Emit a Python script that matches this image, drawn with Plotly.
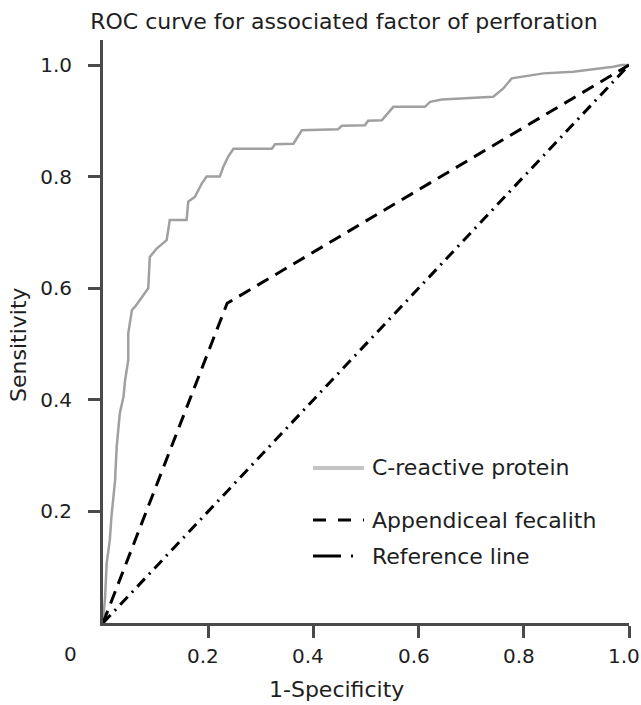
import plotly.graph_objects as go

# ---- data ----
crp_fpr = [0.0, 0.004, 0.007, 0.013, 0.016, 0.023, 0.026, 0.032, 0.039, 0.042, 0.048, 0.048,
           0.055, 0.061, 0.086, 0.089, 0.102, 0.121, 0.127, 0.159, 0.162, 0.175, 0.188, 0.197,
           0.222, 0.229, 0.238, 0.248, 0.321, 0.327, 0.362, 0.378, 0.447, 0.454, 0.498, 0.504,
           0.530, 0.552, 0.612, 0.622, 0.644, 0.742, 0.761, 0.777, 0.837, 0.894, 0.970, 0.986, 1.0]
crp_tpr = [0.0, 0.047, 0.107, 0.149, 0.190, 0.256, 0.316, 0.376, 0.406, 0.435, 0.471, 0.519,
           0.561, 0.567, 0.600, 0.656, 0.671, 0.686, 0.722, 0.722, 0.755, 0.764, 0.788, 0.800,
           0.800, 0.818, 0.836, 0.850, 0.850, 0.858, 0.859, 0.883, 0.885, 0.891, 0.892, 0.900,
           0.901, 0.925, 0.925, 0.934, 0.938, 0.943, 0.958, 0.976, 0.985, 0.988, 0.997, 1.0, 1.0]

fecalith_fpr = [0.0, 0.236, 1.0]
fecalith_tpr = [0.0, 0.573, 1.0]

ref_fpr = [0.0, 1.0]
ref_tpr = [0.0, 1.0]

x_ticks = [0.2, 0.4, 0.6, 0.8, 1.0]
x_tick_labels = ["0.2", "0.4", "0.6", "0.8", "1.0"]
y_ticks = [0.2, 0.4, 0.6, 0.8, 1.0]
y_tick_labels = ["0.2", "0.4", "0.6", "0.8", "1.0"]

names = ["C-reactive protein", "Appendiceal fecalith", "Reference line"]
title = "ROC curve for associated factor of perforation"

FONT = "DejaVu Sans"
FS = 22
TFS = 20
TXT = "#1e1e1e"
AX = "#4a4a4a"

W, H = 641, 705
L, R, T, B = 103, 12, 40, 82
plot_h = H - T - B
y_top = plot_h / 558.0

fig = go.Figure()
crp_style = dict(color="#a0a0a0", width=2.5)
fec_style = dict(color="black", width=3, dash="13px,8px")
ref_style = dict(color="black", width=3, dash="11px,6px,2px,6px")

fig.add_trace(go.Scatter(x=crp_fpr, y=crp_tpr, mode="lines", line=crp_style,
                         name=names[0], showlegend=False))
fig.add_trace(go.Scatter(x=fecalith_fpr, y=fecalith_tpr, mode="lines", line=fec_style,
                         name=names[1], showlegend=False))
fig.add_trace(go.Scatter(x=ref_fpr, y=ref_tpr, mode="lines", line=ref_style,
                         name=names[2], showlegend=False))

fig.update_layout(
    width=W, height=H,
    margin=dict(l=L, r=R, t=T, b=B, autoexpand=False),
    plot_bgcolor="white", paper_bgcolor="white",
    font=dict(family=FONT, size=FS, color=TXT),
    title=dict(text=title, x=344 / W, xref="container", xanchor="center",
               y=1 - 21 / H, yref="container", yanchor="middle",
               font=dict(family=FONT, size=FS, color=TXT)),
    xaxis=dict(range=[0, 1], showgrid=False, zeroline=False, showline=True,
               linecolor=AX, linewidth=3, ticks="outside", ticklen=12, tickwidth=3,
               tickcolor=AX, tickvals=x_ticks, showticklabels=False, automargin=False),
    yaxis=dict(range=[0, y_top], showgrid=False, zeroline=False, showline=True,
               linecolor=AX, linewidth=3, ticks="outside", ticklen=12, tickwidth=3,
               tickcolor=AX, tickvals=y_ticks, ticktext=y_tick_labels,
               ticklabelstandoff=12, ticklabeloverflow="allow", automargin=False,
               tickfont=dict(family=FONT, size=TFS, color=TXT)),
    showlegend=False,
)

pw = W - L - R


def px_x(px):
    return (px - L) / pw


def px_y(py):
    return (H - B - py) / plot_h


# x tick labels (slightly left of their ticks, as in the original)
for v, lab in zip(x_ticks, x_tick_labels):
    fig.add_annotation(xref="x", yref="paper", x=v, y=px_y(656), text=lab,
                       showarrow=False, xanchor="center", yanchor="middle", xshift=-5,
                       font=dict(family=FONT, size=TFS, color=TXT))

annots = [
    dict(text="0", x=px_x(70), y=px_y(654), font=dict(family=FONT, size=TFS, color=TXT)),
    dict(text="1-Specificity", x=px_x(336), y=px_y(689), font=dict(family=FONT, size=FS, color=TXT)),
    dict(text="Sensitivity", x=px_x(18), y=px_y(345), textangle=-90,
         font=dict(family=FONT, size=FS, color=TXT)),
]
for a in annots:
    fig.add_annotation(xref="paper", yref="paper", showarrow=False,
                       xanchor="center", yanchor="middle", **a)

# manual legend
leg_rows = [468, 520, 556]
leg_styles = [dict(color="#c4c4c4", width=4), dict(color="black", width=3, dash="13px,12px"),
              dict(color="black", width=3, dash="28px,10px,2px,20px")]
for name, yy, st in zip(names, leg_rows, leg_styles):
    fig.add_shape(type="line", xref="paper", yref="paper",
                  x0=px_x(313), x1=px_x(364), y0=px_y(yy), y1=px_y(yy), line=st)
    fig.add_annotation(xref="paper", yref="paper", showarrow=False, text=name,
                       x=px_x(370), y=px_y(yy), xanchor="left", yanchor="middle",
                       font=dict(family=FONT, size=FS, color=TXT))

fig.write_html("out.html", config={"displayModeBar": False},
               post_script="document.body.style.margin='0px';document.body.style.overflow='hidden';")
